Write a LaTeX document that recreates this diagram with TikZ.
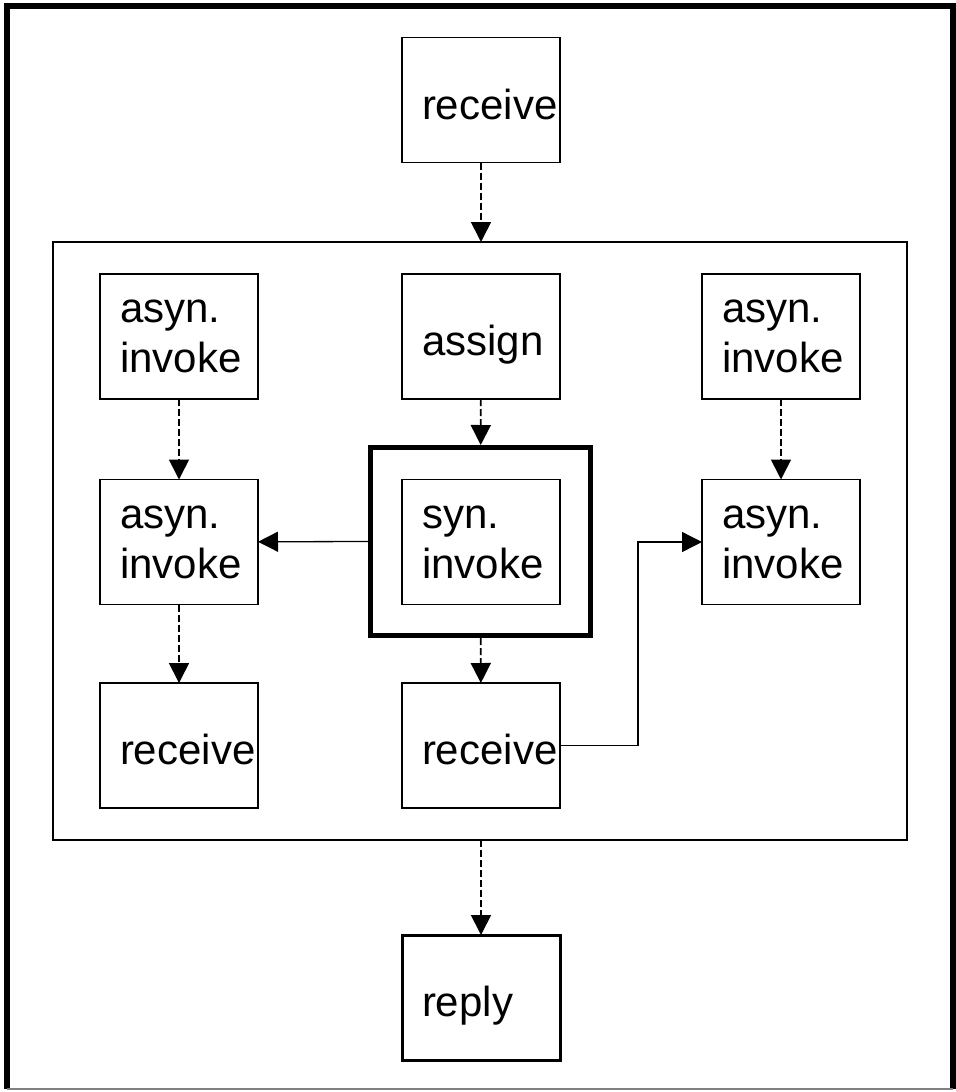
\documentclass[tikz,border=0pt]{standalone}
\usepackage{fontspec}
\setmainfont{Liberation Sans}
\usetikzlibrary{arrows.meta}
\tikzset{
  act/.style={draw,line width=0.65pt,minimum width=79pt,minimum height=62.5pt,
    text width=59pt,inner xsep=10pt,align=left,outer sep=0pt,
    font=\fontsize{21}{25}\selectfont},
  oneline/.style={act,text height=19pt,text depth=0pt},
  flowarr/.style={->,dash pattern=on 3.5pt off 1.5pt,line width=0.85pt},
  linkarr/.style={->,line width=0.65pt}
}
\begin{document}
\begin{tikzpicture}[>={Triangle[length=10pt,width=10pt]},line join=miter,x=0.5pt,y=-0.5pt]
	\useasboundingbox (0,0) rectangle (955,1092);
	% frame
	\draw[line width=3pt] (7,1089) -- (7,6) -- (953,6) -- (953,1089);
	\draw[line width=0.6pt,gray] (7,1089) -- (953,1089);
	% activities
	\node[oneline] (recvtop) at (481,100) {receive};
	\node[draw,line width=0.65pt,minimum width=427pt,minimum height=299pt,outer sep=0pt] (flow) at (480,541) {};
	\node[act] (asynA) at (179,336.5) {asyn.\\invoke};
	\node[oneline] (assign) at (481,336.5) {assign};
	\node[act] (asynC) at (781,336.5) {asyn.\\invoke};
	\node[act] (asynB) at (179,542) {asyn.\\invoke};
	\node[act] (syn) at (481,542) {syn.\\invoke};
	\node[draw,line width=2.5pt,minimum width=110pt,minimum height=94pt,outer sep=1.25pt] (synframe) at (480.5,541.5) {};
	\node[act] (asynD) at (781,542) {asyn.\\invoke};
	\node[oneline] (recvleft) at (179,745.5) {receive};
	\node[oneline] (recvmid) at (481,745.5) {receive};
	\node[oneline,line width=1.5pt] (reply) at (481,997.5) {reply};
	% links
	\draw[flowarr] (recvtop) -- (recvtop |- flow.north);
	\draw[flowarr] (assign) -- (synframe);
	\draw[flowarr] (synframe) -- (recvmid);
	\draw[flowarr] (asynA) -- (asynB);
	\draw[flowarr] (asynB) -- (recvleft);
	\draw[flowarr] (asynC) -- (asynD);
	\draw[flowarr] (reply |- flow.south) -- (reply);
	\draw[linkarr] (synframe.west) -- (asynB);
	\draw[linkarr] (recvmid.east) -- ++(39pt,0) |- (asynD.west);
\end{tikzpicture}
\end{document}
